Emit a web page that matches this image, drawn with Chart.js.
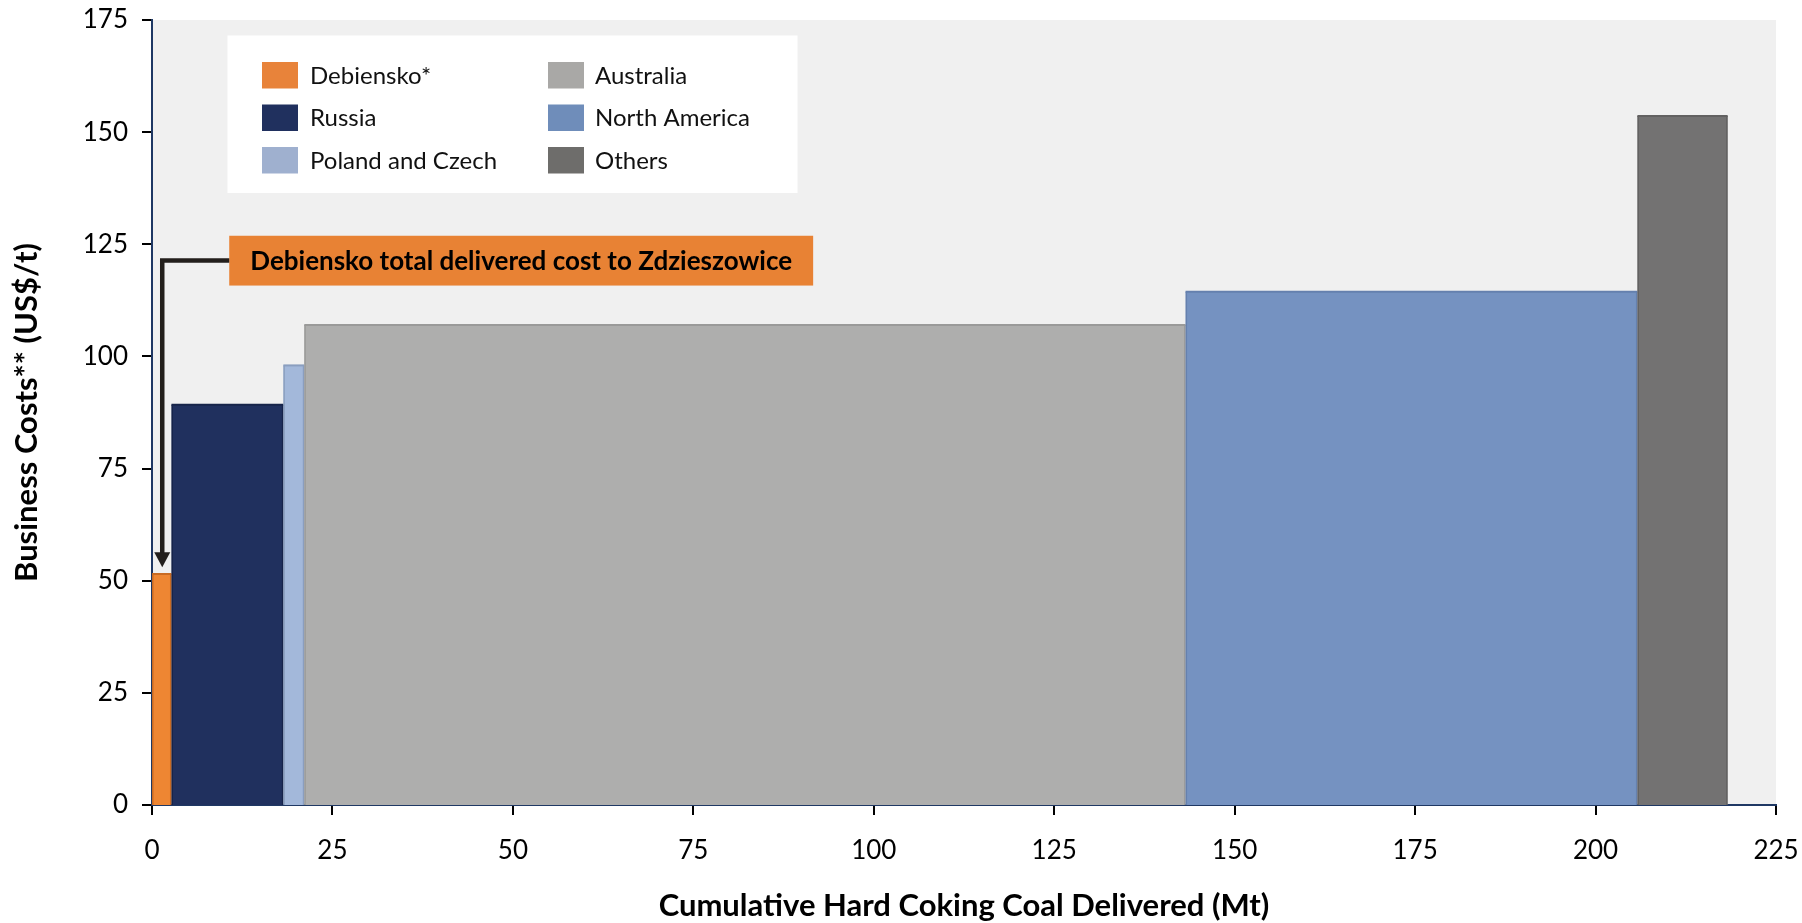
<!DOCTYPE html>
<html>
<head>
<meta charset="utf-8">
<script src="https://cdn.jsdelivr.net/npm/chart.js@4.4.1/dist/chart.umd.min.js"></script>
<style>
  html, body { margin: 0; padding: 0; background: #ffffff; }
  #wrap { width: 1802px; height: 923px; position: relative; }
</style>
</head>
<body>
<div id="wrap"><canvas id="c" width="1802" height="923"></canvas></div>
<script>
// ---- Data ----
const categories = ['Debiensko*', 'Russia', 'Poland and Czech', 'Australia', 'North America', 'Others'];
const volumesMt = [2.7, 15.5, 2.9, 122.1, 62.6, 12.5];          // width of each block (Mt)
const costsUsdPerT = [51.5, 89.2, 98.0, 107.0, 114.4, 153.6];   // height of each block (US$/t)
const xTickValues = [0, 25, 50, 75, 100, 125, 150, 175, 200, 225];
const yTickValues = [0, 25, 50, 75, 100, 125, 150, 175];
const annotationText = 'Debiensko total delivered cost to Zdzieszowice';
const xTitle = 'Cumulative Hard Coking Coal Delivered (Mt)';
const yTitle = 'Business Costs** (US$/t)';

// ---- Styles ----
const fillColors = ['#EE8633', '#20305E', '#A3B8DA', '#AEAEAD', '#7592C1', '#737272'];
const edgeColors = ['#C96A22', '#17244A', '#8A9EBF', '#9A9A99', '#6580AE', '#626161'];
const legendColors = ['#E8833A', '#20305E', '#9FB0CF', '#A9A8A6', '#6F8DBA', '#6E6D6B'];
const FONT = 'Lato, "Open Sans", sans-serif';

// Build step-rectangle datasets from cumulative volume
let cum = 0;
const datasets = categories.map((name, i) => {
  const x0 = cum;
  cum += volumesMt[i];
  return {
    label: name,
    data: [{ x: x0, y: costsUsdPerT[i] }, { x: cum, y: costsUsdPerT[i] }],
    borderColor: edgeColors[i],
    borderWidth: 2,
    backgroundColor: fillColors[i],
    fill: 'origin',
    pointRadius: 0,
    tension: 0
  };
});

const plotBg = {
  id: 'plotBg',
  beforeDraw(chart) {
    const { ctx, chartArea: a } = chart;
    ctx.save();
    ctx.fillStyle = '#F0F0F0';
    ctx.fillRect(a.left, a.top, a.right - a.left, a.bottom - a.top);
    ctx.restore();
  }
};

const overlays = {
  id: 'overlays',
  afterDatasetsDraw(chart) {
    const { ctx } = chart;
    const xs = chart.scales.x, ys = chart.scales.y;
    const X = v => xs.getPixelForValue(v);
    const Y = v => ys.getPixelForValue(v);
    ctx.save();

    // vertical edges of blocks (subtle)
    let c = 0;
    for (let i = 0; i < categories.length; i++) {
      const x0 = X(c); c += volumesMt[i]; const x1 = X(c);
      ctx.strokeStyle = edgeColors[i];
      ctx.lineWidth = 1.5;
      ctx.beginPath();
      ctx.moveTo(x0 + 0.75, Y(costsUsdPerT[i]));
      ctx.lineTo(x0 + 0.75, Y(0));
      ctx.moveTo(x1 - 0.75, Y(costsUsdPerT[i]));
      ctx.lineTo(x1 - 0.75, Y(0));
      ctx.stroke();
    }

    // Legend box
    const lx = 227.5, ly = 35.5, lw = 570, lh = 157.5;
    ctx.fillStyle = '#FFFFFF';
    ctx.fillRect(lx, ly, lw, lh);
    const swX = [262, 548], txX = [310, 595], rowTop = [62, 104.5, 147];
    ctx.font = '24px ' + FONT;
    ctx.textBaseline = 'middle';
    ctx.textAlign = 'left';
    for (let i = 0; i < categories.length; i++) {
      const col = Math.floor(i / 3), row = i % 3;
      ctx.fillStyle = legendColors[i];
      ctx.fillRect(swX[col], rowTop[row], 36, 26.5);
      ctx.fillStyle = '#111111';
      ctx.fillText(categories[i], txX[col], rowTop[row] + 14);
    }

    // Annotation box
    const bx0 = X(10.7), bx1 = X(91.6), by0 = Y(126.9), by1 = Y(115.8);
    ctx.fillStyle = '#E88234';
    ctx.fillRect(bx0, by0, bx1 - bx0, by1 - by0);
    ctx.fillStyle = '#000000';
    ctx.font = 'bold 26px ' + FONT;
    ctx.textAlign = 'center';
    ctx.fillText(annotationText, (bx0 + bx1) / 2, (by0 + by1) / 2 + 1);

    // Arrow
    const ax = X(volumesMt[0] / 2) + 0.5, ay = Y(121.4), tipY = Y(costsUsdPerT[0] + 1.5);
    ctx.strokeStyle = '#231F1C';
    ctx.lineWidth = 4.5;
    ctx.lineJoin = 'miter';
    ctx.beginPath();
    ctx.moveTo(bx0, ay);
    ctx.lineTo(ax, ay);
    ctx.lineTo(ax, tipY - 12);
    ctx.stroke();
    ctx.fillStyle = '#231F1C';
    ctx.beginPath();
    ctx.moveTo(ax - 8, tipY - 15);
    ctx.lineTo(ax + 8, tipY - 15);
    ctx.lineTo(ax, tipY);
    ctx.closePath();
    ctx.fill();

    ctx.restore();
  }
};

new Chart(document.getElementById('c'), {
  type: 'line',
  data: { datasets },
  options: {
    responsive: false,
    animation: false,
    devicePixelRatio: 1,
    layout: { padding: { top: 20, right: 26, left: 0, bottom: 0 } },
    plugins: { legend: { display: false }, tooltip: { enabled: false } },
    scales: {
      x: {
        type: 'linear',
        min: 0, max: 225,
        afterBuildTicks(s) { s.ticks = xTickValues.map(v => ({ value: v })); },
        afterFit(s) { s.height = 118; s.paddingLeft = 0; s.paddingRight = 0; },
        grid: { drawOnChartArea: false, drawTicks: true, tickLength: 10, tickColor: '#000000', lineWidth: 2 },
        border: { display: true, color: '#1F3864', width: 2 },
        ticks: { color: '#000000', font: { family: FONT, size: 26 }, padding: 20, maxRotation: 0 },
        title: { display: true, text: xTitle, color: '#000000', font: { family: FONT, size: 31, weight: 'bold' }, padding: { top: 0, bottom: -2 } }
      },
      y: {
        type: 'linear',
        min: 0, max: 175,
        afterBuildTicks(s) { s.ticks = yTickValues.map(v => ({ value: v })); },
        afterFit(s) { s.width = 152; s.paddingTop = 0; s.paddingBottom = 0; },
        grid: { drawOnChartArea: false, drawTicks: true, tickLength: 10, tickColor: '#000000', lineWidth: 2 },
        border: { display: true, color: '#1F3864', width: 2 },
        ticks: { color: '#000000', font: { family: FONT, size: 26 }, padding: 14 },
        title: { display: true, text: yTitle, color: '#000000', font: { family: FONT, size: 31, weight: 'bold' }, padding: { top: 8, bottom: 0 } }
      }
    }
  },
  plugins: [plotBg, overlays]
});
</script>
</body>
</html>
